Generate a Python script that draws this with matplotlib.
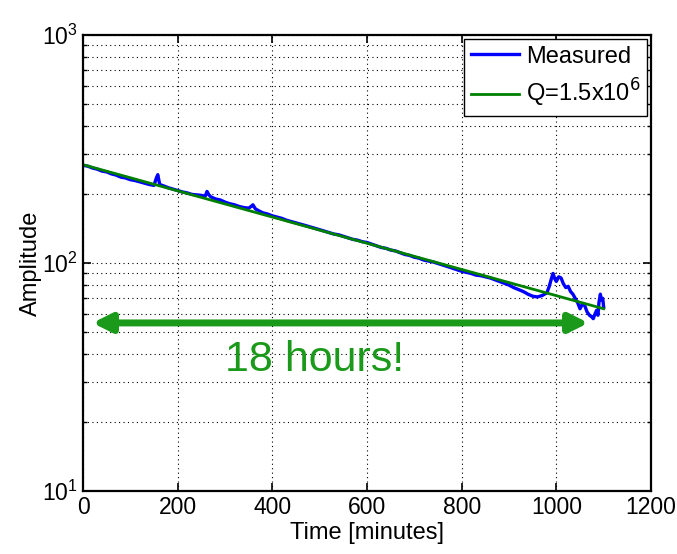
import matplotlib
matplotlib.use("Agg")
import matplotlib.pyplot as plt
from matplotlib.ticker import LogLocator, NullFormatter

plt.rcParams['font.family'] = ['Liberation Sans', 'DejaVu Sans']

# measured ring-down
t_meas = [0, 10, 20, 30, 40, 50, 60, 70, 80, 90, 100, 110, 120, 130, 140, 150,
          155, 158, 162, 170, 180, 190, 200, 210, 220, 230, 240, 250, 258, 262,
          266, 270, 280, 290, 300, 310, 320, 330, 340, 350, 355, 359, 364, 370,
          380, 390, 400, 410, 420, 430, 440, 450, 460, 470, 480, 490, 500, 510,
          520, 530, 540, 550, 560, 570, 580, 590, 600, 610, 620, 630, 640, 650,
          660, 670, 680, 690, 700, 710, 720, 730, 740, 750, 760, 770, 780, 790,
          800, 810, 820, 830, 840, 850, 860, 870, 880, 890, 900, 910, 920, 930,
          940, 950, 960, 970, 980, 985, 990, 993, 997, 1000, 1005, 1010, 1015,
          1020, 1025, 1030, 1035, 1040, 1045, 1050, 1055, 1060, 1065, 1070,
          1075, 1078, 1082, 1085, 1088, 1090, 1093, 1095, 1098, 1100]
amp_meas = [268, 266, 261, 258, 253, 251, 246, 243, 238, 236, 232, 230, 227, 224,
            221, 219, 236, 244, 221, 218, 214, 211, 208, 205, 203, 200, 199, 198,
            196, 206, 199, 195, 191, 189, 185, 182, 180, 177, 175, 174, 177, 180,
            173, 170, 166, 164, 161, 159, 157, 154, 152, 150, 148, 146, 144, 142,
            140, 138, 136, 134, 133, 131, 129, 127, 126, 124, 123, 121, 119, 117,
            116, 114, 113, 111, 109, 108, 106, 105, 103, 102, 101, 99.5, 98, 96.5,
            95, 93.5, 92, 91, 90, 88.5, 88, 87, 86, 84.5, 83, 81.5, 80, 78, 76.5,
            75, 73, 71.5, 71, 72, 74, 79, 86, 90, 85, 83, 87, 86, 81, 78, 79, 75,
            73, 70, 67, 63, 66, 65, 61, 59, 58, 57, 60, 62, 59, 67, 73, 69, 70, 64]

# exponential fit, Q = 1.5e6 (straight line on log axis)
t_fit = [0, 1100]
amp_fit = [270, 63]

arrow_t = [20, 1068]
arrow_amp = 54.6

fig = plt.figure(figsize=(6.77, 5.54), dpi=100)
ax = fig.add_axes([0.1226, 0.1137, 0.839, 0.8231])

ax.plot(t_meas, amp_meas, color=(0, 0, 1), lw=2.4, label='Measured')
ax.plot(t_fit, amp_fit, color=(0, 0.5, 0), lw=2.0, label='Q=1.5x10$^6$')

ax.set_yscale('log')
ax.set_xlim(0, 1200)
ax.set_ylim(10, 1000)
ax.set_xticks([0, 200, 400, 600, 800, 1000, 1200])
ax.yaxis.set_minor_locator(LogLocator(base=10, subs=range(2, 10)))
ax.yaxis.set_minor_formatter(NullFormatter())

ax.grid(True, which='major', axis='both', color='black', ls=(0, (1, 3)), lw=0.8)
ax.grid(True, which='minor', axis='y', color='black', ls=(0, (1, 3)), lw=0.8)
ax.tick_params(which='both', direction='in', top=True, right=True)
ax.tick_params(which='major', length=6, width=1.2, labelsize=16.5)
ax.tick_params(which='minor', length=3, width=1.0)
for s in ax.spines.values():
    s.set_linewidth(1.6)

ax.set_xlabel('Time [minutes]', fontsize=17, labelpad=2)
ax.set_ylabel('Amplitude', fontsize=17, labelpad=0)

leg = ax.legend(loc='upper right', fontsize=17, fancybox=False, framealpha=1,
                edgecolor='black', borderaxespad=0.15, handlelength=2.0,
                handletextpad=0.3, borderpad=0.3, labelspacing=0.4)
leg.get_frame().set_linewidth(1.0)

ax.annotate('', xy=(arrow_t[0], arrow_amp), xytext=(arrow_t[1], arrow_amp),
            arrowprops=dict(arrowstyle='<|-|>,head_length=1.1,head_width=0.55',
                            color=(0.1, 0.6, 0.1), lw=5, shrinkA=0, shrinkB=0))
ax.text(490, 37.6, '18 hours!', color=(0.1, 0.6, 0.1), fontsize=31,
        ha='center', va='center')

fig.savefig('out.png', dpi=100)
